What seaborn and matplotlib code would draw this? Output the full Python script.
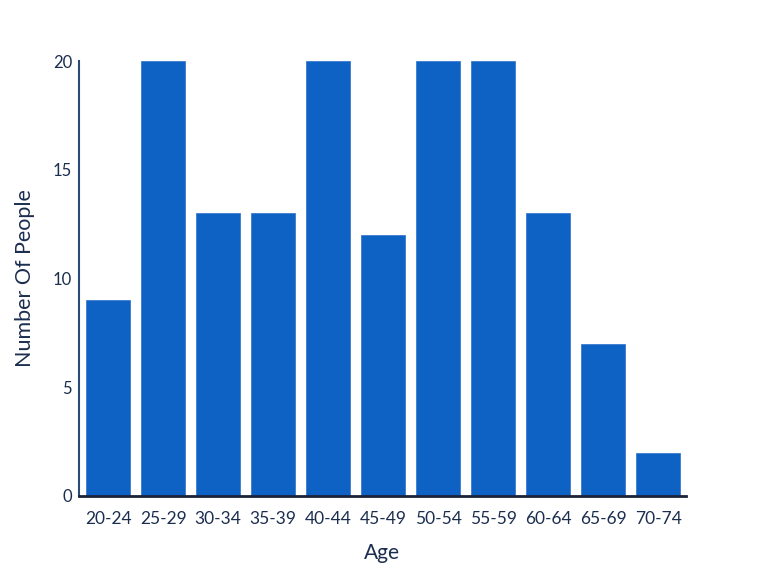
import matplotlib
matplotlib.use("Agg")
import matplotlib.pyplot as plt
import seaborn as sns
import pandas as pd

ages = ["20-24", "25-29", "30-34", "35-39", "40-44", "45-49", "50-54", "55-59", "60-64", "65-69", "70-74"]
counts = [9, 20, 13, 13, 20, 12, 20, 20, 13, 7, 2]
yticks = [0, 5, 10, 15, 20]

sns.set_style("white")
plt.rcParams["font.family"] = ["Lato", "DejaVu Sans"]

df = pd.DataFrame({"Age": ages, "Number Of People": counts})

fig = plt.figure(figsize=(7.68, 5.76), dpi=100)
ax = fig.add_axes([0.1029, 0.1389, 0.790, 0.755])
sns.barplot(data=df, x="Age", y="Number Of People", color="#0d62c4", saturation=1,
            width=0.8, edgecolor="#3a7bd0", linewidth=0.6, ax=ax)
ax.set_xlim(-0.53, 10.5)
ax.set_ylim(0, 20)
ax.set_yticks(yticks)
txt = "#1c2e4f"
ax.tick_params(axis="y", length=0, labelsize=12, colors=txt, pad=5)
ax.tick_params(axis="x", length=5, width=1, color="#6a8ab8", labelsize=12.5, labelcolor=txt, pad=6, direction="out")
for s in ["top", "right"]:
    ax.spines[s].set_visible(False)
ax.spines["left"].set_color("#2a4a78")
ax.spines["left"].set_linewidth(1.5)
ax.spines["bottom"].set_color("#1a2438")
ax.spines["bottom"].set_linewidth(2)
ax.set_xlabel("Age", fontsize=15, color=txt, labelpad=11)
ax.set_ylabel("Number Of People", fontsize=15.5, color=txt, labelpad=13)
fig.savefig("out.png", dpi=100)
